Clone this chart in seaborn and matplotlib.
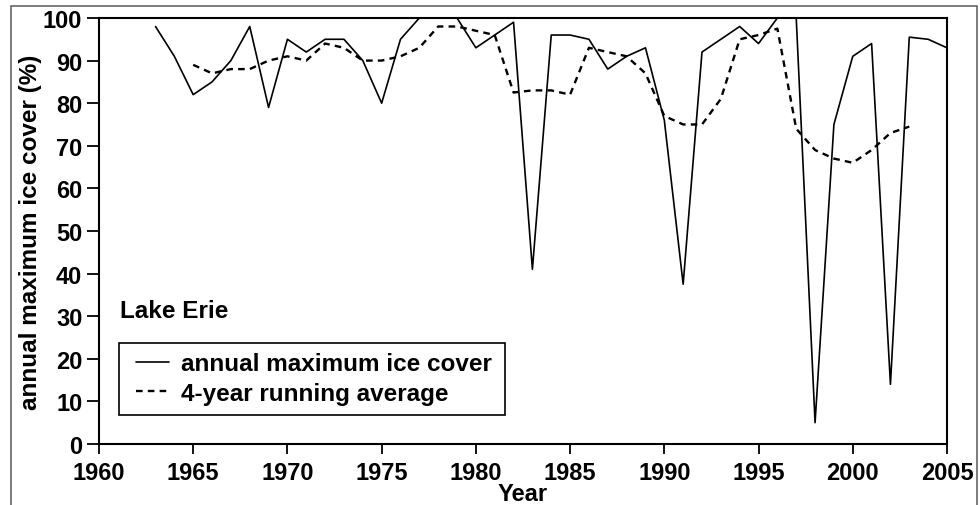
import numpy as np
import pandas as pd
import matplotlib
matplotlib.use("Agg")
import matplotlib.pyplot as plt
import seaborn as sns
from matplotlib.patches import Rectangle

# annual maximum ice cover, Lake Erie (%)
years = list(range(1963, 2006))
ice_cover = [98, 91, 82, 85, 90, 98, 79, 95, 92, 95, 95, 90, 80,
             95, 100, 100, 100, 93, 96, 99, 41, 96, 96, 95, 88, 91, 93,
             76, 37.5, 92, 95, 98, 94, 100, 100, 5, 75, 91, 94, 14,
             95.5, 95, 93]

# 4-year running average
avg_years = list(range(1965, 2004))
running_avg = [89, 87, 88, 88, 90, 91, 90, 94, 93, 90, 90,
               91, 93, 98, 98, 97, 96, 82.5, 83, 83, 82, 93, 92, 91, 87,
               77, 75, 75, 81, 95, 96, 97.5, 74, 69, 67, 66, 69, 73, 74.5]

x_ticks = list(range(1960, 2006, 5))
y_ticks = list(range(0, 101, 10))

sns.set_style("ticks")
plt.rcParams['font.family'] = ['Liberation Sans', 'DejaVu Sans']
plt.rcParams['font.weight'] = 'bold'
plt.rcParams['text.color'] = 'black'
plt.rcParams['axes.labelcolor'] = 'black'
plt.rcParams['xtick.color'] = 'black'
plt.rcParams['ytick.color'] = 'black'

df_ice = pd.DataFrame({"Year": years, "cover": ice_cover})
df_avg = pd.DataFrame({"Year": avg_years, "cover": running_avg})

fig = plt.figure(figsize=(9.8, 5.06), dpi=100)
ax = fig.add_axes([0.101, 0.1206, 0.8653, 0.8419])

sns.lineplot(data=df_ice, x="Year", y="cover", ax=ax, color="black",
             linewidth=1.2, label="annual maximum ice cover")
sns.lineplot(data=df_avg, x="Year", y="cover", ax=ax, color="black",
             linewidth=1.7, label="4-year running average")
ax.lines[1].set_dashes([2.8, 2.2])

ax.set_xlim(1960, 2005)
ax.set_ylim(0, 100)
ax.set_xticks(x_ticks)
ax.set_yticks(y_ticks)
ax.tick_params(axis='x', direction='out', length=7, width=1.3, labelsize=17, pad=5)
ax.tick_params(axis='y', direction='out', length=9, width=1.3, labelsize=17, pad=3)
for s in ax.spines.values():
    s.set_visible(True)
    s.set_linewidth(1.5)
    s.set_color("black")

ax.set_xlabel("Year", fontsize=17, fontweight='bold', labelpad=-1)
ax.set_ylabel("annual maximum ice cover (%)", fontsize=17.5, fontweight='bold', labelpad=1)

ax.text(0.025, 0.298, "Lake Erie", transform=ax.transAxes, fontsize=17.5,
        fontweight='bold', va='baseline', ha='left')

# legend without its own frame; box drawn separately to match the original
leg = ax.legend(loc='upper left', bbox_to_anchor=(0.044, 0.2155), fontsize=17.5,
                frameon=False, handlelength=1.35, handletextpad=0.5,
                borderpad=0, labelspacing=0.27, borderaxespad=0)
for t in leg.get_texts():
    t.set_color('black')
ax.add_patch(Rectangle((0.0236, 0.068), 0.455, 0.169, transform=ax.transAxes,
                       fill=False, edgecolor='black', linewidth=1.2, zorder=5))

# thin grey frame around the picture
fig.patches.append(Rectangle((11 / 980, -0.05), 966 / 980, 1 - 7 / 506 + 0.05,
                             transform=fig.transFigure, fill=False,
                             edgecolor="#666666", linewidth=1.2))

fig.savefig("out.png", dpi=100)
